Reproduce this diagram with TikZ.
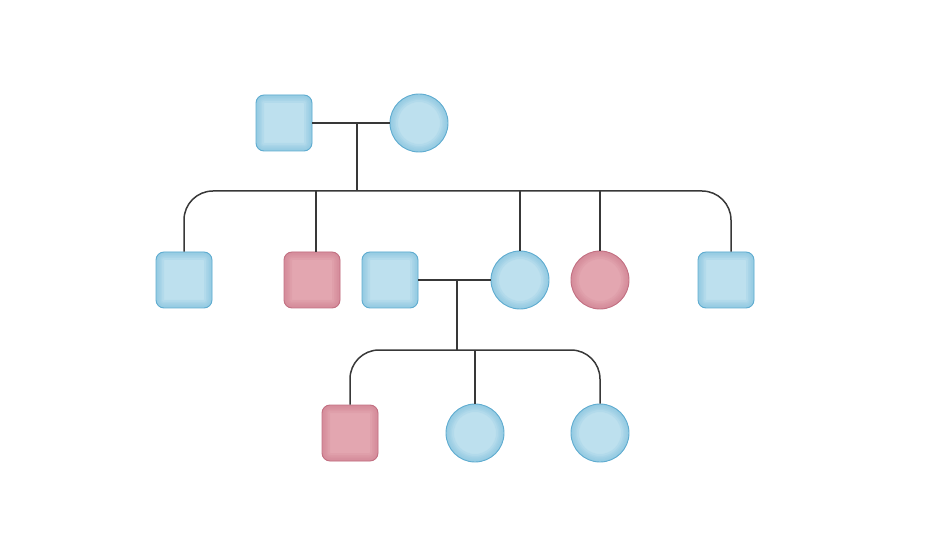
\documentclass[tikz,border=0pt]{standalone}
\usetikzlibrary{calc}
\definecolor{blight}{HTML}{BDE0EE}
\definecolor{bglow}{HTML}{7FC0DD}
\definecolor{bedge}{HTML}{5FACD0}
\definecolor{plight}{HTML}{E3A6B0}
\definecolor{pglow}{HTML}{CF8192}
\definecolor{pedge}{HTML}{C27082}
\definecolor{linec}{HTML}{383838}
\tikzset{
  sqglow/.style={path picture={
      \foreach \w in {16,12,9,6,3}{
        \draw[line width=\w bp, #1, opacity=0.17, rounded corners=8bp]
          (path picture bounding box.south west) rectangle (path picture bounding box.north east);}}},
  ciglow/.style={path picture={
      \foreach \w in {16,12,9,6,3}{
        \draw[line width=\w bp, #1, opacity=0.17]
          (path picture bounding box.center) circle (29bp);}}},
  sq/.style={rectangle, minimum size=56bp, rounded corners=8bp, inner sep=0pt, line width=0.9bp},
  ci/.style={circle, minimum size=58bp, inner sep=0pt, line width=0.9bp},
  bsq/.style={sq, fill=blight, draw=bedge, sqglow=bglow},
  psq/.style={sq, fill=plight, draw=pedge, sqglow=pglow},
  bci/.style={ci, fill=blight, draw=bedge, ciglow=bglow},
  pci/.style={ci, fill=plight, draw=pedge, ciglow=pglow},
  conn/.style={draw=linec, line width=1.5bp},
  bar/.style={conn, rounded corners=29bp}
}
\begin{document}
\begin{tikzpicture}[x=1bp, y=-1bp]
\useasboundingbox (0,0) rectangle (944,538);
% generation 1
\node[bsq] (f1) at (284,123) {};
\node[bci] (m1) at (419,123) {};
% generation 2
\node[bsq] (g2a) at (184,280) {};
\node[psq] (g2b) at (312,280) {};
\node[bsq] (g2c) at (390,280) {};
\node[bci] (g2d) at (520,280) {};
\node[pci] (g2e) at (600,280) {};
\node[bsq] (g2f) at (726,280) {};
% generation 3
\node[psq] (g3a) at (350,433) {};
\node[bci] (g3b) at (475,433) {};
\node[bci] (g3c) at (600,433) {};
% junctions
\coordinate (c1) at (357,123);
\coordinate (sib1) at (357,191);
\coordinate (c2) at (457,280);
\coordinate (sib2) at (457,350);
% connectors
\draw[conn] (f1.east) -- (m1.west);
\draw[conn] (c1) -- (sib1);
\draw[bar] (g2a.north) |- (sib1) -| ([xshift=5bp]g2f.north);
\draw[conn] ([xshift=4bp]g2b.north) -- ([xshift=4bp]g2b.north |- sib1);
\draw[conn] (g2d.north) -- (g2d.north |- sib1);
\draw[conn] (g2e.north) -- (g2e.north |- sib1);
\draw[conn] (g2c.east) -- (g2d.west);
\draw[conn] (c2) -- (sib2);
\draw[bar] (g3a.north) |- (sib2) -| (g3c.north);
\draw[conn] (g3b.north) -- (g3b.north |- sib2);
\end{tikzpicture}
\end{document}
